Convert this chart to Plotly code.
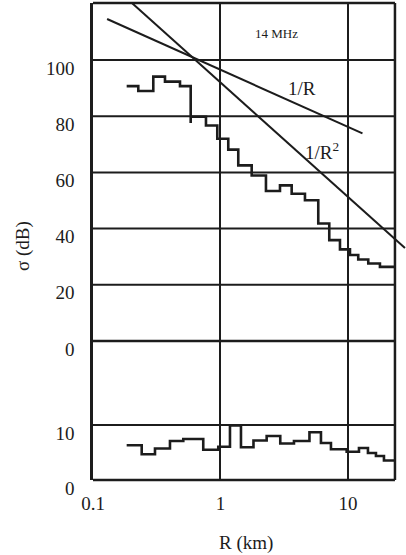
import plotly.graph_objects as go

# ---- data ----
# upper step curve: sigma (dB) vs R (km), step left edges (hv)
upper_r = [0.1837, 0.2266, 0.2971, 0.3670, 0.4813, 0.5839, 0.5839, 0.7694, 0.9439,
           1.151, 1.379, 1.757, 2.274, 2.929, 3.618, 4.599, 5.849, 7.135, 8.656,
           10.37, 12.04, 14.43, 17.82, 23.0]
upper_s = [90.7, 89.0, 94.1, 92.3, 90.7, 77.6, 79.8, 76.7, 72.0,
           68.1, 62.5, 58.9, 53.4, 55.4, 52.4, 50.1, 41.8, 35.9, 32.6,
           30.6, 29.0, 27.6, 26.4, 26.4]

# lower step curve (bottom panel, 0-10 scale)
lower_r = [0.1837, 0.2410, 0.3064, 0.4016, 0.5108, 0.7326, 0.9609, 1.187, 1.448,
           1.815, 2.303, 2.944, 3.771, 4.989, 6.141, 7.356, 9.768, 12.20, 14.35,
           16.58, 19.16, 23.2]
lower_s = [6.33, 4.69, 5.73, 7.09, 7.45, 5.49, 6.04, 9.91, 5.96,
           7.18, 8.0, 6.64, 7.09, 8.69, 6.73, 5.6, 5.13, 5.82, 4.91,
           4.36, 3.55, 3.55]

# reference slopes 1/R and 1/R^2 (straight lines, end points)
inv_r = [0.129, 13.0]
inv_s = [114.6, 73.9]
inv2_r = [0.202, 28.0]
inv2_s = [120.3, 33.1]

x_ticks = [0.1, 1, 10]
x_ticktext = ["0.1", "1", "10"]
top_ticks = [0, 20, 40, 60, 80, 100]
bottom_ticks = [0, 10]
top_grid = [20, 40, 60, 80, 100]
bottom_grid = [10]
R_FRAME = 23.37  # right end of the framed R range (km)

INK = "#1c1c1c"
FONT = "Liberation Serif"

fig = go.Figure()
fig.add_trace(go.Scatter(x=upper_r, y=upper_s, mode="lines", line=dict(color=INK, width=2.6, shape="hv"),
                         xaxis="x", yaxis="y2", hoverinfo="skip"))
fig.add_trace(go.Scatter(x=inv_r, y=inv_s, mode="lines", line=dict(color=INK, width=2),
                         xaxis="x", yaxis="y2", hoverinfo="skip"))
fig.add_trace(go.Scatter(x=inv2_r, y=inv2_s, mode="lines", line=dict(color=INK, width=2),
                         xaxis="x", yaxis="y2", hoverinfo="skip"))
fig.add_trace(go.Scatter(x=lower_r, y=lower_s, mode="lines", line=dict(color=INK, width=2.6, shape="hv"),
                         xaxis="x", yaxis="y", hoverinfo="skip"))

shapes = []
gl = dict(color=INK, width=2)
for v in top_grid:
    shapes.append(dict(type="line", xref="x", yref="y2", x0=0.1, x1=R_FRAME, y0=v, y1=v, line=gl, layer="below"))
for v in bottom_grid:
    shapes.append(dict(type="line", xref="x", yref="y", x0=0.1, x1=R_FRAME, y0=v, y1=v, line=gl, layer="below"))
fl = dict(color=INK, width=2.5)
shapes.append(dict(type="line", xref="x", yref="y2 domain", x0=0.1, x1=R_FRAME, y0=0, y1=0, line=fl))
shapes.append(dict(type="line", xref="x", yref="y2 domain", x0=0.1, x1=R_FRAME, y0=1, y1=1, line=fl))
shapes.append(dict(type="line", xref="x", yref="y domain", x0=0.1, x1=R_FRAME, y0=0, y1=0, line=fl))
shapes.append(dict(type="line", xref="x", yref="paper", x0=R_FRAME, x1=R_FRAME, y0=0, y1=1, line=fl))

yax_common = dict(showgrid=False, zeroline=False, showline=True, linecolor=INK, linewidth=2.5,
                  ticks="", ticklabelstandoff=12, ticklabelshift=8,
                  tickfont=dict(family=FONT, size=19, color=INK), anchor="x")

fig.update_layout(
    width=406, height=555,
    margin=dict(l=93, r=0, t=3, b=75),
    paper_bgcolor="white", plot_bgcolor="white",
    showlegend=False,
    xaxis=dict(type="log", range=[-1, 1.4553], domain=[0, 1], anchor="y",
               tickvals=x_ticks, ticktext=x_ticktext, showgrid=True, gridcolor=INK, gridwidth=2,
               zeroline=False, showline=False, ticks="", ticklabelstandoff=10,
               tickfont=dict(family=FONT, size=19, color=INK)),
    yaxis=dict(domain=[0, 0.2914], range=[0, 25.27], tickvals=bottom_ticks, **yax_common),
    yaxis2=dict(domain=[0.2914, 1], range=[0, 120.3], tickvals=top_ticks, **yax_common),
    shapes=shapes,
    annotations=[
        dict(text="14 MHz", xref="x", yref="y2", x=0.443, y=109.3, xanchor="center", yanchor="middle",
             showarrow=False, font=dict(family=FONT, size=13, color=INK)),
        dict(text="1/R", xref="x", yref="y2", x=0.639, y=90.0, xanchor="center", yanchor="middle",
             showarrow=False, font=dict(family=FONT, size=19, color=INK)),
        dict(text="1/R<sup>2</sup>", xref="x", yref="y2", x=0.80, y=67.5, xanchor="center", yanchor="middle",
             showarrow=False, font=dict(family=FONT, size=19, color=INK)),
        dict(text="σ (dB)", xref="paper", yref="paper", x=-0.2236, y=0.4906, textangle=-90,
             xanchor="center", yanchor="middle", showarrow=False, font=dict(family=FONT, size=19, color=INK)),
        dict(text="R (km)", xref="paper", yref="paper", x=0.4888, y=-0.132, xanchor="center", yanchor="middle",
             showarrow=False, font=dict(family=FONT, size=19, color=INK)),
    ],
)
# annotation x positions are in log10 units for log axes
fig.write_html("out.html", config={"displayModeBar": False},
               post_script="document.body.style.margin='0';document.body.style.overflow='hidden';")
